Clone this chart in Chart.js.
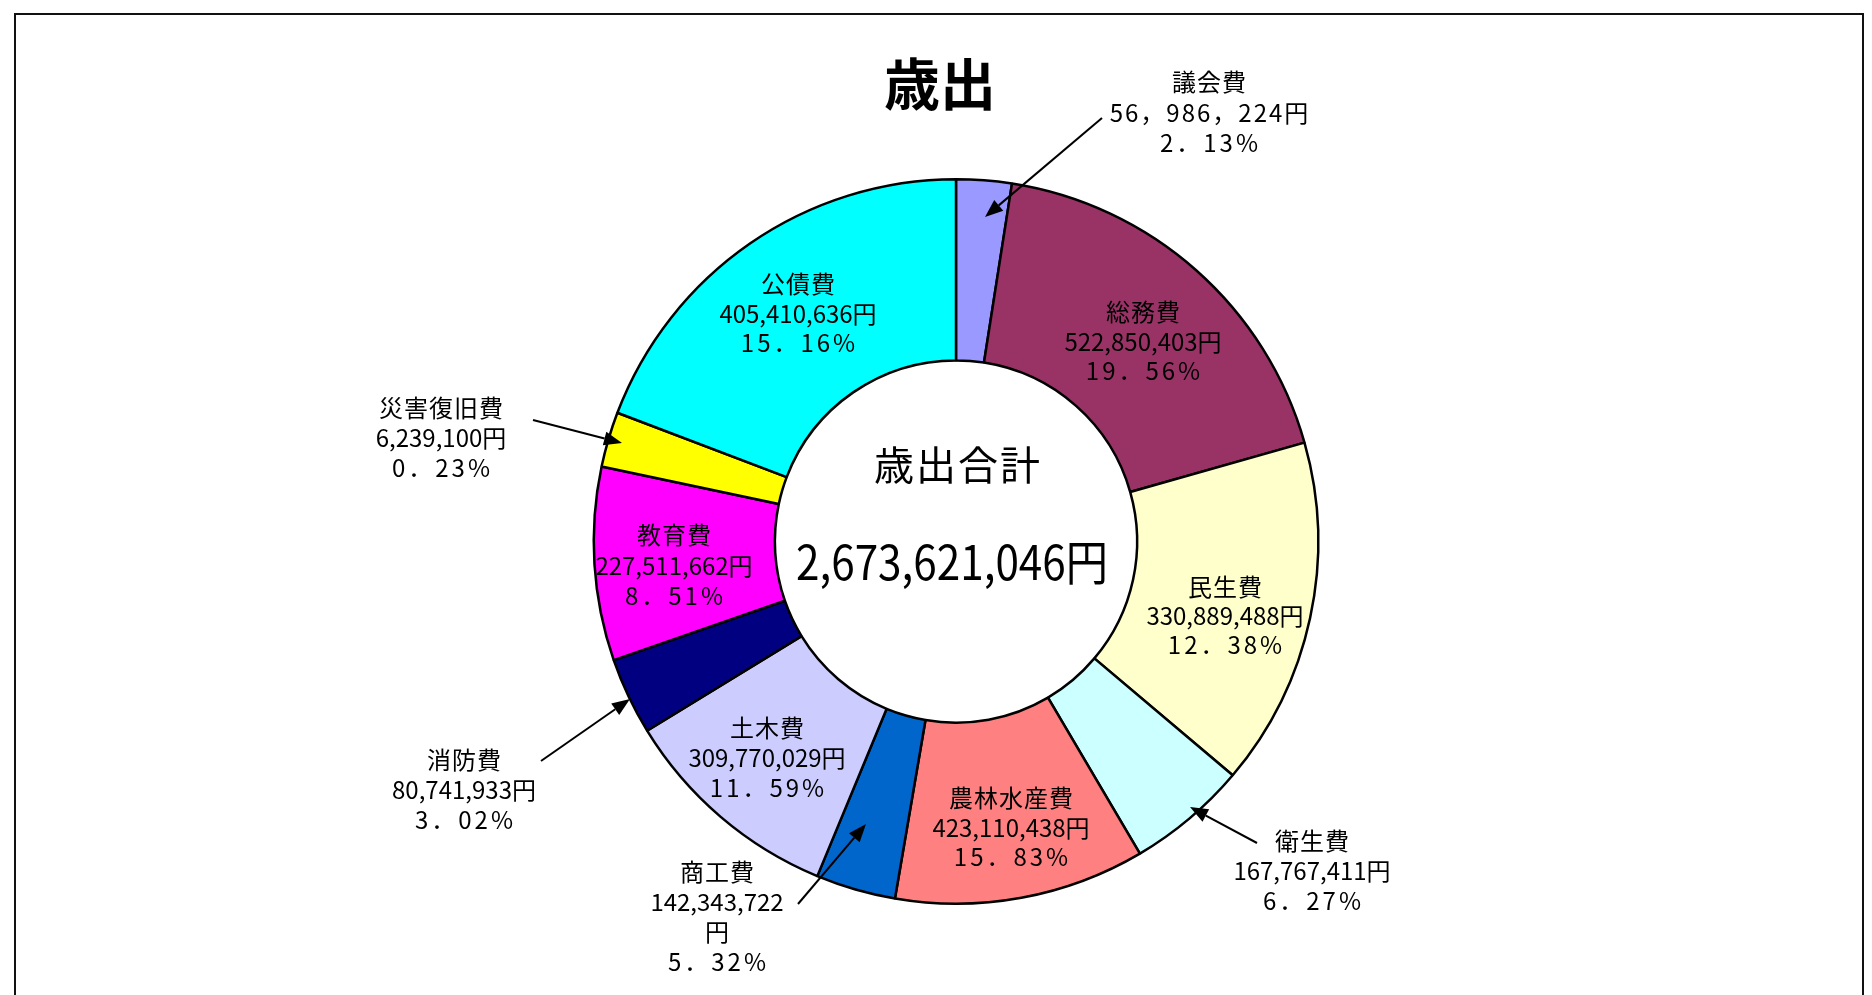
<!DOCTYPE html>
<html>
<head>
<meta charset="utf-8">
<script src="https://cdn.jsdelivr.net/npm/chart.js@4"></script>
<style>
  body { margin: 0; background: #fff; }
  #wrap { width: 1872px; height: 995px; }
</style>
</head>
<body>
<div id="wrap"><canvas id="chart" width="1872" height="995"></canvas></div>
<script>
// categories, clockwise from the top
const categories = ['議会費', '総務費', '民生費', '衛生費', '農林水産費', '商工費', '土木費', '消防費', '教育費', '災害復旧費', '公債費'];
// printed amounts (円)
const amounts = [56986224, 522850403, 330889488, 167767411, 423110438, 142343722, 309770029, 80741933, 227511662, 6239100, 405410636];
// wedge sizes as drawn in the picture (%), they don't follow the printed amounts
const wedgeShares = [2.47, 18.13, 15.57, 5.36, 11.17, 3.56, 10.0, 3.44, 8.63, 2.46, 19.22];
const colours = ['#9999FF', '#993366', '#FFFFCC', '#CCFFFF', '#FF8080', '#0066CC', '#CCCCFF', '#000080', '#FF00FF', '#FFFF00', '#00FFFF'];

const chartTitle = '歳出';
const centreTitle = '歳出合計';

const total = amounts.reduce(function(a, b) { return a + b; }, 0);
const FONT = '"Noto Sans CJK JP", "Noto Sans", sans-serif';

// where each label block sits (name line centre), and optional arrow
const labelSpots = [
  { x: 1209, y: 82, gap: 30.5, wide: true, arrow: [1102, 118, 985, 217] },
  { x: 1143, y: 312, gap: 29.5 },
  { x: 1225, y: 587, gap: 29 },
  { x: 1312, y: 841, gap: 30, arrow: [1257, 843, 1190, 807] },
  { x: 1011, y: 798, gap: 29.5 },
  { x: 717, y: 872, gap: 30, split: true, arrow: [798, 904, 866, 824] },
  { x: 767, y: 728, gap: 30 },
  { x: 464, y: 760, gap: 30, arrow: [541, 761, 630, 699] },
  { x: 674, y: 535, gap: 30.5 },
  { x: 441, y: 408, gap: 30, arrow: [533, 420, 622, 443] },
  { x: 798, y: 284, gap: 29.5 }
];

function fmtAmount(v, wide) {
  let s = v.toLocaleString('en-US');
  if (wide) s = s.replace(/,/g, '，');
  return s;
}
function fmtPct(v) {
  return (v * 100 / total).toFixed(2).replace('.', '．') + '%';
}

function drawText(ctx, str, x, y, font, opts) {
  opts = opts || {};
  ctx.save();
  ctx.font = font;
  ctx.fillStyle = '#000';
  ctx.textAlign = 'center';
  ctx.textBaseline = 'middle';
  if (opts.spacing) ctx.letterSpacing = opts.spacing + 'px';
  ctx.translate(x + (opts.spacing ? opts.spacing / 2 : 0), y);
  ctx.scale(opts.sx || 1, 1);
  ctx.fillText(str, 0, 0);
  ctx.restore();
}

function drawArrow(ctx, a) {
  let x1 = a[0], y1 = a[1], x2 = a[2], y2 = a[3];
  let ang = Math.atan2(y2 - y1, x2 - x1);
  let len = 18, half = 7;
  let bx = x2 - len * Math.cos(ang), by = y2 - len * Math.sin(ang);
  ctx.save();
  ctx.strokeStyle = '#000';
  ctx.fillStyle = '#000';
  ctx.lineWidth = 2;
  ctx.beginPath();
  ctx.moveTo(x1, y1);
  ctx.lineTo(bx, by);
  ctx.stroke();
  ctx.beginPath();
  ctx.moveTo(x2, y2);
  ctx.lineTo(bx + half * Math.sin(ang), by - half * Math.cos(ang));
  ctx.lineTo(bx - half * Math.sin(ang), by + half * Math.cos(ang));
  ctx.closePath();
  ctx.fill();
  ctx.restore();
}

const framePlugin = {
  id: 'frame',
  beforeDraw: function(chart) {
    let ctx = chart.ctx;
    ctx.save();
    ctx.fillStyle = '#fff';
    ctx.fillRect(0, 0, chart.width, chart.height);
    ctx.strokeStyle = '#111';
    ctx.lineWidth = 2;
    ctx.beginPath();
    ctx.moveTo(15, 1000);
    ctx.lineTo(15, 14);
    ctx.lineTo(1863, 14);
    ctx.lineTo(1863, 1000);
    ctx.stroke();
    ctx.restore();
  }
};

const labelPlugin = {
  id: 'labels',
  afterDraw: function(chart) {
    let ctx = chart.ctx;
    let meta = chart.getDatasetMeta(0);
    let arc = meta.data[0];

    // title
    drawText(ctx, chartTitle, 940, 84, '600 56px ' + FONT);

    // centre of the ring
    drawText(ctx, centreTitle, arc.x + 1, 465, '40px ' + FONT, { spacing: 2 });
    drawText(ctx, fmtAmount(total) + '円', arc.x - 4, 562, '48px ' + FONT, { sx: 0.88 });

    for (let i = 0; i < categories.length; i++) {
      let p = labelSpots[i];
      let y = p.y;
      drawText(ctx, categories[i], p.x, y, '24px ' + FONT, { spacing: 1 });
      y += p.gap;
      if (p.split) {
        drawText(ctx, fmtAmount(amounts[i]), p.x, y, '24px ' + FONT);
        y += p.gap;
        drawText(ctx, '円', p.x, y, '24px ' + FONT);
      } else if (p.wide) {
        drawText(ctx, fmtAmount(amounts[i], true) + '円', p.x, y, '24px ' + FONT, { spacing: 2 });
      } else {
        drawText(ctx, fmtAmount(amounts[i]) + '円', p.x, y, '24px ' + FONT);
      }
      y += p.gap;
      drawText(ctx, fmtPct(amounts[i]), p.x, y, '24px ' + FONT, { spacing: 3 });
      if (p.arrow) drawArrow(ctx, p.arrow);
    }
  }
};

new Chart(document.getElementById('chart'), {
  type: 'doughnut',
  data: {
    labels: categories,
    datasets: [{
      data: wedgeShares,
      backgroundColor: colours,
      borderColor: '#000',
      borderWidth: 2.5,
      hoverOffset: 0
    }]
  },
  options: {
    responsive: false,
    animation: false,
    cutout: '50%',
    layout: { padding: { top: 178, bottom: 90, left: 40, right: 0 } },
    plugins: {
      legend: { display: false },
      tooltip: { enabled: false },
      title: { display: false }
    }
  },
  plugins: [framePlugin, labelPlugin]
});
</script>
</body>
</html>
